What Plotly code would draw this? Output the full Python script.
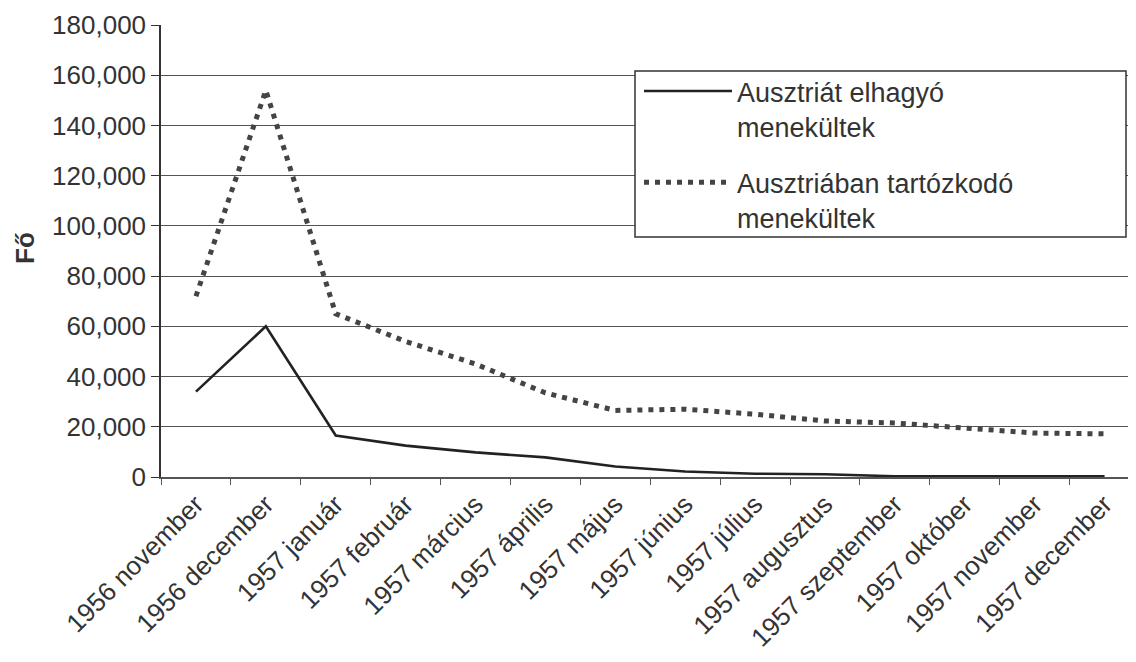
import plotly.graph_objects as go

categories = ["1956 november", "1956 december", "1957 január", "1957 február",
              "1957 március", "1957 április", "1957 május", "1957 június",
              "1957 július", "1957 augusztus", "1957 szeptember", "1957 október",
              "1957 november", "1957 december"]
leaving = [34000, 60000, 16500, 12500, 9800, 7800, 4200, 2200, 1300, 1100, 300, 300, 0, 300]
staying = [72000, 154000, 65000, 54000, 45000, 33500, 26500, 27000, 25000, 22300, 21500, 19500, 17500, 17200]
names = ["Ausztriát elhagyó<br>menekültek", "Ausztriában tartózkodó<br>menekültek"]
y_ticks = [0, 20000, 40000, 60000, 80000, 100000, 120000, 140000, 160000, 180000]
y_title = "Fő"

fig = go.Figure()
fig.add_trace(go.Scatter(x=categories, y=leaving, mode="lines", name=names[0],
                         legendgroup="g1",
                         line=dict(color="#222222", width=2.6)))
fig.add_trace(go.Scatter(x=categories, y=staying, mode="lines", name=names[1],
                         legendgroup="g2",
                         line=dict(color="#444444", width=5, dash="5px,6px")))

font = "Liberation Sans, Arial, sans-serif"
OFF = 8  # page body margin
W, H = 1136 - OFF, 662 - OFF
PL, PT, PB, PR = 161, 25, 477, 1136  # plot box in page pixels
L, T = PL - OFF, PT - OFF
B = H - (PB - OFF)
plot_w = PR - PL
plot_h = PB - PT


def px(X):
    return (X - PL) / plot_w


def py(Y):
    return (PB - Y) / plot_h


fig.update_layout(
    width=W, height=H,
    margin=dict(l=L, r=0, t=T, b=B, autoexpand=False),
    paper_bgcolor="white", plot_bgcolor="white",
    font=dict(family=font, size=26, color="#333333"),
    showlegend=True,
    legend=dict(x=px(639), y=py(67), xanchor="left", yanchor="top",
                borderwidth=0, bgcolor="rgba(0,0,0,0)", valign="top",
                font=dict(size=27, color="#333333"), itemwidth=88,
                tracegroupgap=18, traceorder="grouped"),
    shapes=[dict(type="rect", xref="paper", yref="paper",
                 x0=px(635), x1=px(1126), y0=py(237), y1=py(71),
                 line=dict(color="#333333", width=1.5), fillcolor="white",
                 layer="above")],
    annotations=[dict(text="<b>" + y_title + "</b>", xref="paper", yref="paper",
                      x=px(25), y=py(248),
                      xanchor="center", yanchor="middle", textangle=-90,
                      showarrow=False, font=dict(size=26, color="#333333"))],
)
fig.update_xaxes(
    type="category", range=[-0.5, 13.45], automargin=False,
    showgrid=False, showline=True, linecolor="#555555", linewidth=1.5,
    ticks="outside", tickson="boundaries", ticklen=6, tickcolor="#555555",
    tickangle=-45, tickfont=dict(size=26, color="#333333"),
)
fig.update_yaxes(
    range=[0, 180000], tickvals=y_ticks, tickformat=",d", automargin=False,
    showgrid=True, gridcolor="#555555", gridwidth=1.2,
    showline=True, linecolor="#333333", linewidth=1.5,
    ticks="outside", ticklen=8, tickcolor="#333333",
    zeroline=False,
    tickfont=dict(size=26, color="#333333"),
)
fig.write_html("out.html")
